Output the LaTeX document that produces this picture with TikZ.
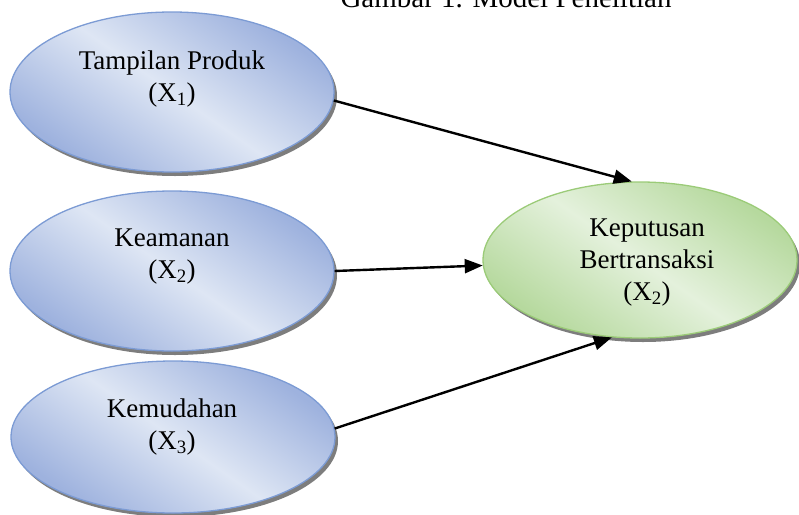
\documentclass[tikz,border=0pt]{standalone}
\usepackage{fontspec}
\setmainfont{Liberation Serif}
\usetikzlibrary{shapes.geometric,arrows.meta,shadows}
\definecolor{bdark}{RGB}{158,178,222}
\definecolor{blight}{RGB}{222,230,244}
\definecolor{bborder}{RGB}{124,155,212}
\definecolor{gdark}{RGB}{182,217,158}
\definecolor{glight}{RGB}{228,241,220}
\definecolor{gborder}{RGB}{155,203,120}
\definecolor{shadowgray}{RGB}{125,125,125}
\pgfdeclareverticalshading{bluegrad}{100bp}{color(0bp)=(bdark); color(26bp)=(bdark); color(50bp)=(blight); color(74bp)=(bdark); color(100bp)=(bdark)}
\pgfdeclareverticalshading{greengrad}{100bp}{color(0bp)=(gdark); color(26bp)=(gdark); color(50bp)=(glight); color(74bp)=(gdark); color(100bp)=(gdark)}
\tikzset{
  oval/.style={ellipse, inner sep=0pt, line width=1.3pt,
    drop shadow={shadow xshift=3pt, shadow yshift=-4pt, fill=shadowgray, opacity=1}},
  blueoval/.style={oval, draw=bborder, shading=bluegrad, shading angle=-35,
    minimum width=324pt, minimum height=160pt},
  greenoval/.style={oval, draw=gborder, shading=greengrad, shading angle=-35,
    minimum width=314pt, minimum height=156pt},
  lbl/.style={align=center, font=\fontsize{27}{32}\selectfont, inner sep=0pt},
  arr/.style={line width=2.4pt, -{Triangle[length=18pt,width=14pt]}}
}
\begin{document}
\begin{tikzpicture}[x=1pt,y=-1pt]
\useasboundingbox (0,0) rectangle (799,514);
\node[lbl, anchor=base, font=\fontsize{29}{32}\selectfont] (title) at (506,8) {Gambar 1. Model Penelitian};
\node[blueoval] (t1) at (172,92) {};
\node[blueoval] (t2) at (172,271) {};
\node[blueoval, minimum height=152pt] (t3) at (173,437) {};
\node[greenoval] (k) at (640,260) {};
\node[lbl] (l1) at (172,79) {Tampilan Produk\\(X\textsubscript{1})};
\node[lbl] (l2) at (172,257) {Keamanan\\(X\textsubscript{2})};
\node[lbl] (l3) at (172,427) {Kemudahan\\(X\textsubscript{3})};
\node[lbl] (lk) at (647,263) {Keputusan\\Bertransaksi\\(X\textsubscript{2})};
\draw[arr] (t1.-3) -- (k.96);
\draw[arr] (t2.east) -- (k.182);
\draw[arr] (t3.3) -- (k.250);
\end{tikzpicture}
\end{document}
